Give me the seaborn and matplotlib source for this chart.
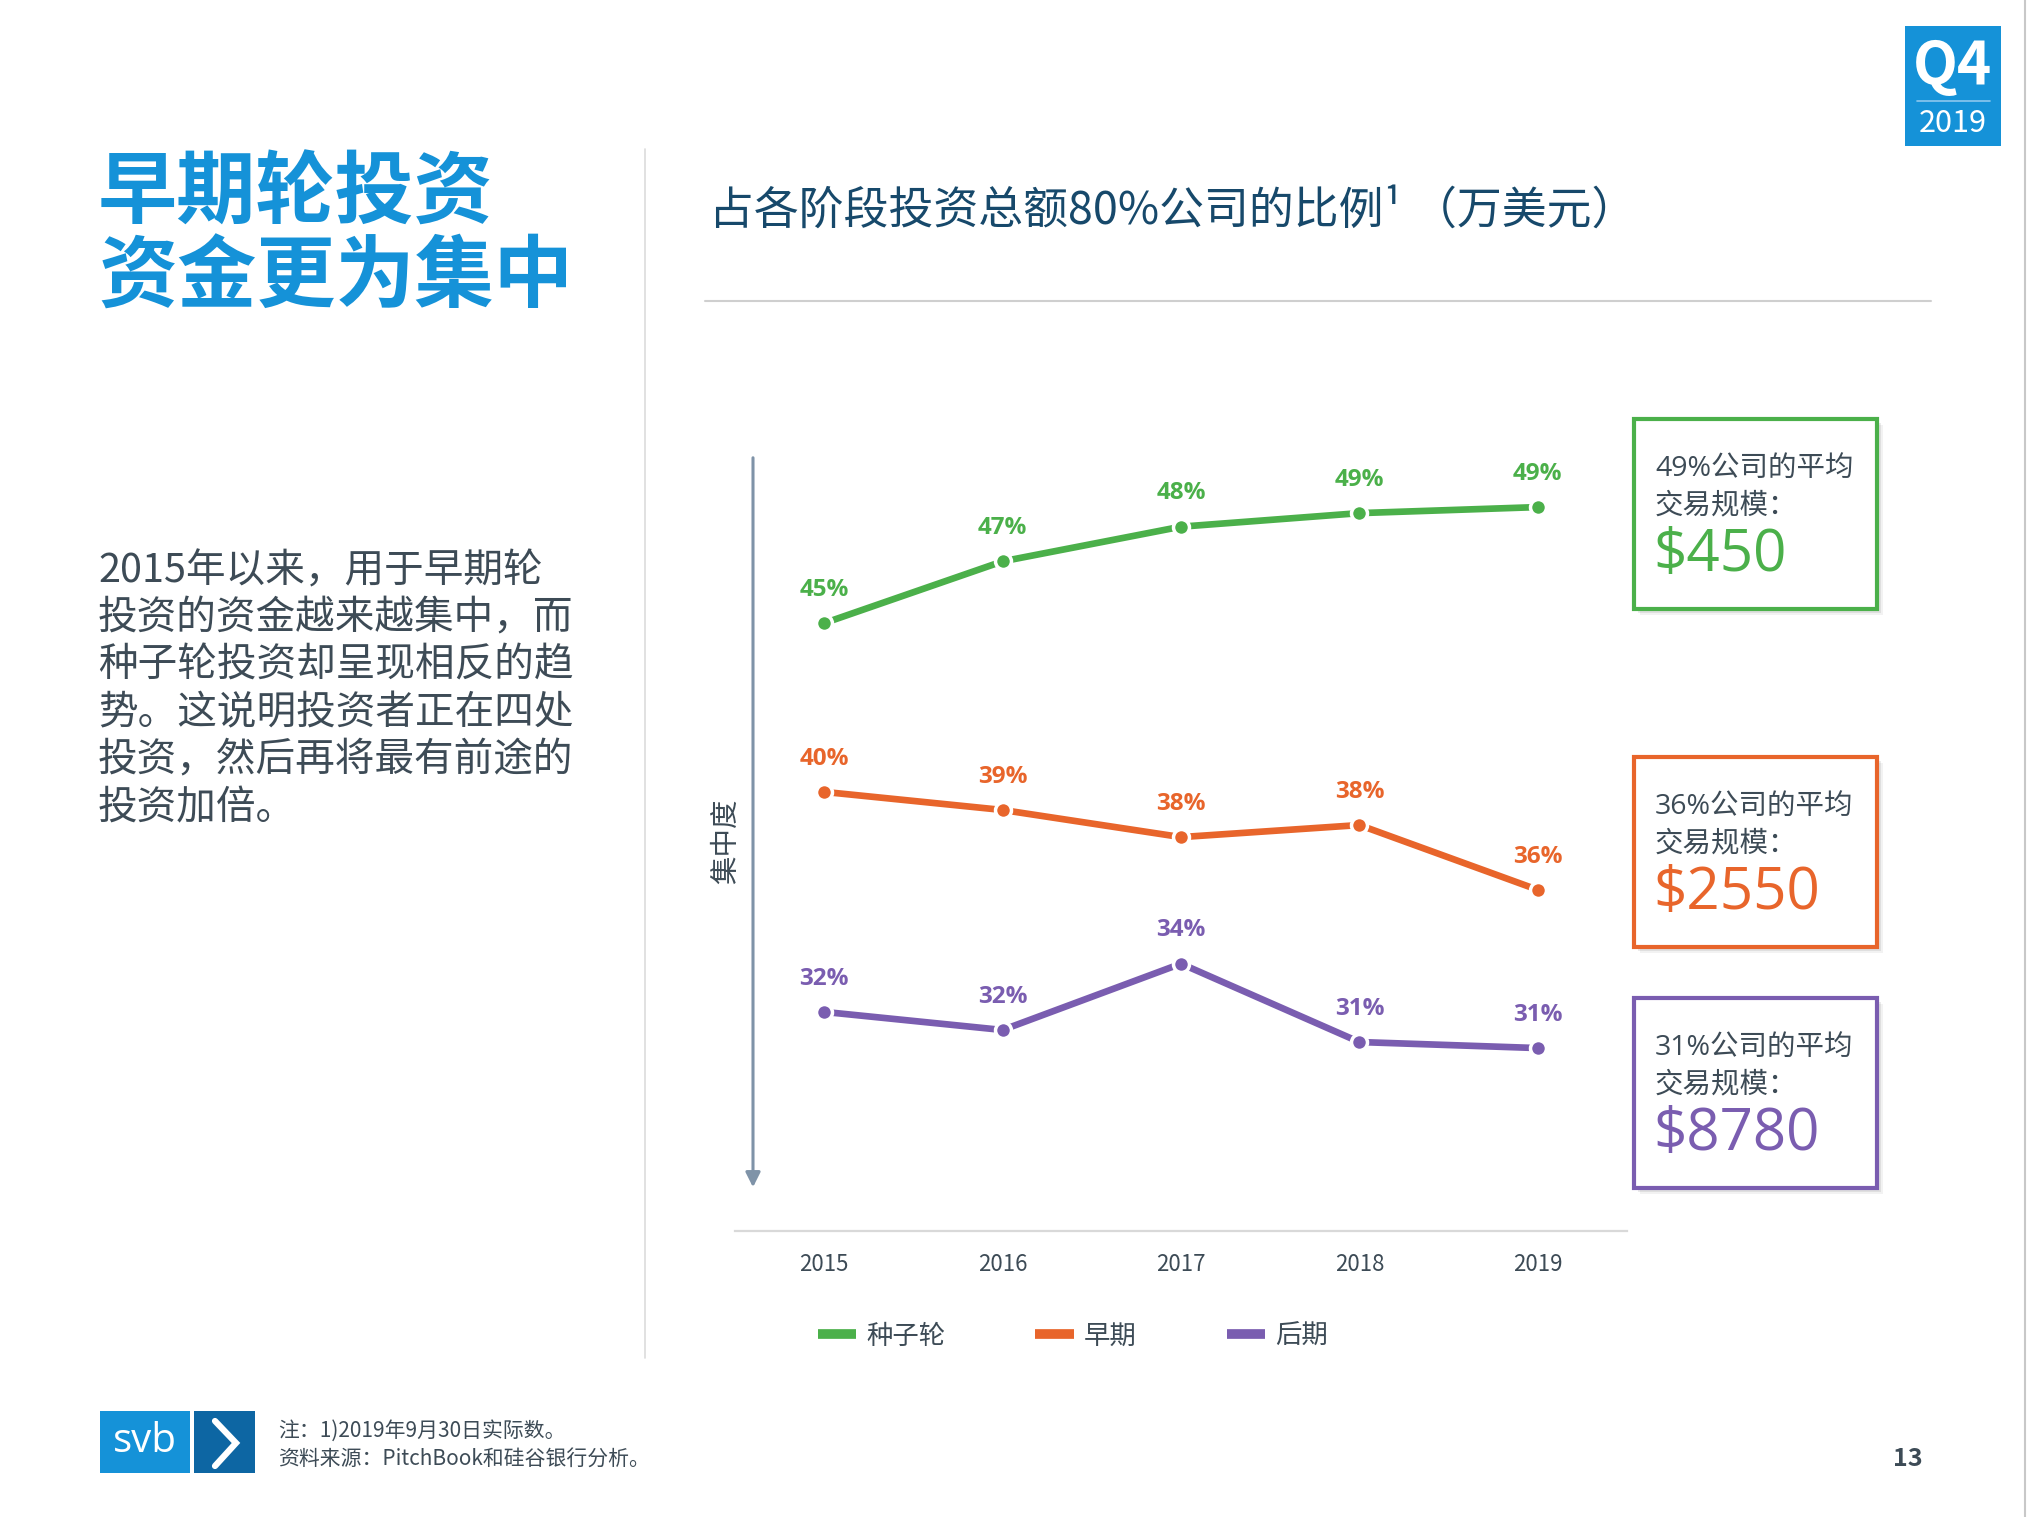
import matplotlib
matplotlib.use("Agg")
import matplotlib.pyplot as plt
import matplotlib.patches as patches
from matplotlib.lines import Line2D
import numpy as np
import pandas as pd
import seaborn as sns

# chart data
years = [2015, 2016, 2017, 2018, 2019]
stages = ["种子轮", "早期", "后期"]
# line heights (percent)
seed_vals = [45.1, 47.15, 48.3, 48.75, 48.95]
early_vals = [39.5, 38.9, 38.0, 38.4, 36.25]
late_vals = [32.2, 31.6, 33.8, 31.2, 31.0]
# printed data labels
seed_labels = ["45%", "47%", "48%", "49%", "49%"]
early_labels = ["40%", "39%", "38%", "38%", "36%"]
late_labels = ["32%", "32%", "34%", "31%", "31%"]
# call-out boxes
box_pcts = ["49%", "36%", "31%"]
box_amounts = ["$450", "$2550", "$8780"]

colors = {"种子轮": "#4bb04a", "早期": "#e8652b", "后期": "#7a5db0"}
TEXT = "#3d4b56"
BLUE = "#1592d8"

W, H = 2028, 1517


def X(x):
    return x / W


def Y(y):
    return 1 - y / H


sns.set_theme(style="white")
plt.rcParams["font.family"] = ["Noto Sans CJK SC", "DejaVu Sans"]

fig = plt.figure(figsize=(W / 100, H / 100), dpi=100)
fig.patch.set_facecolor("white")

# main chart axes
ax = fig.add_axes([X(735), Y(1231), (1627 - 735) / W, (1231 - 420) / H])
ax.set_facecolor("none")

df = pd.DataFrame({
    "year": years * 3,
    "value": seed_vals + early_vals + late_vals,
    "stage": [s for s in stages for _ in years],
})
sns.lineplot(data=df, x="year", y="value", hue="stage", palette=colors,
             linewidth=4.8, marker="o", markersize=11.5, markeredgecolor="white",
             markeredgewidth=2.5, legend=False, ax=ax)

label_sets = [(seed_vals, seed_labels, "种子轮"),
              (early_vals, early_labels, "早期"),
              (late_vals, late_labels, "后期")]
for vals, labs, st in label_sets:
    for yr, v, lab in zip(years, vals, labs):
        ax.annotate(lab, (yr, v), xytext=(0, 24), textcoords="offset points",
                    ha="center", va="center", fontsize=17.5, fontweight="bold",
                    color=colors[st], family=["Open Sans", "DejaVu Sans"])

ax.set_xlim(2014.5, 2019.5)
ax.set_ylim(24.93, 51.84)
ax.set_xticks(years)
ax.set_xticklabels([str(y) for y in years], fontsize=16, color=TEXT)
ax.set_yticks([])
ax.set_xlabel("")
ax.set_ylabel("")
for s in ["top", "left", "right"]:
    ax.spines[s].set_visible(False)
ax.spines["bottom"].set_color("#d9d9d9")
ax.spines["bottom"].set_linewidth(1.6)
ax.tick_params(axis="x", length=0, pad=16)

# legend
handles = [Line2D([], [], color=colors[s], lw=7, solid_capstyle="butt")
           for s in stages]
fig.legend(handles, stages, loc="center", bbox_to_anchor=(X(1073), Y(1336)),
           ncol=3, frameon=False, fontsize=19, handlelength=1.45,
           handletextpad=0.4, columnspacing=3.4, labelcolor=TEXT)

# concentration arrow and label
ax.annotate("", xy=(X(753), Y(1190)), xycoords="figure fraction",
            xytext=(X(753), Y(455)), textcoords="figure fraction",
            arrowprops=dict(arrowstyle="-|>", color="#7f93a8", lw=2.2,
                            mutation_scale=22), annotation_clip=False)
fig.text(X(726), Y(841), "集中度", rotation=90, ha="center", va="center",
         fontsize=20.5, color=TEXT)

# right call-out boxes
box_tops = [419, 757, 998]
box_h = 190
for top, pct, amt, st in zip(box_tops, box_pcts, box_amounts, stages):
    for off, a in [(6, 0.05), (4, 0.08), (2, 0.1)]:
        fig.add_artist(patches.Rectangle((X(1634 + off), Y(top + box_h + off)),
                                         243 / W, box_h / H, transform=fig.transFigure,
                                         facecolor="black", edgecolor="none", alpha=a))
    fig.add_artist(patches.Rectangle((X(1634), Y(top + box_h)), 243 / W, box_h / H,
                                     transform=fig.transFigure, facecolor="white",
                                     edgecolor=colors[st], lw=3))
    fig.text(X(1655), Y(top + 51), pct + "公司的平均", ha="left", va="center",
             fontsize=20.5, color=TEXT, family=["Open Sans", "Noto Sans CJK SC"])
    fig.text(X(1655), Y(top + 86), "交易规模：", ha="left", va="center",
             fontsize=20.5, color=TEXT)
    fig.text(X(1653), Y(top + 137), amt, ha="left", va="center",
             fontsize=42, color=colors[st], family=["Open Sans", "DejaVu Sans"])

# chart title and rule
fig.text(X(709), Y(211), "占各阶段投资总额80%公司的比例¹ （万美元）", ha="left",
         va="center", fontsize=32.3, color="#17496b")
fig.add_artist(Line2D([X(705), X(1931)], [Y(301), Y(301)], color="#cfcfcf", lw=1.5))

# vertical separator and page edge
fig.add_artist(Line2D([X(645), X(645)], [Y(149), Y(1358)], color="#dcdcdc", lw=1.2))
fig.add_artist(Line2D([X(2025), X(2025)], [0, 1], color="#c8c8c8", lw=1.5))

# headline on the left
fig.text(X(98), Y(194), "早期轮投资", ha="left", va="center", fontsize=57,
         fontweight="bold", color=BLUE)
fig.text(X(98), Y(278), "资金更为集中", ha="left", va="center", fontsize=57,
         fontweight="bold", color=BLUE)

body = ["2015年以来，用于早期轮",
        "投资的资金越来越集中，而",
        "种子轮投资却呈现相反的趋",
        "势。这说明投资者正在四处",
        "投资，然后再将最有前途的",
        "投资加倍。"]
for i, line in enumerate(body):
    fig.text(X(98), Y(571 + i * 47.4), line, ha="left", va="center",
             fontsize=28.5, color=TEXT)

# Q4 badge
fig.add_artist(patches.Rectangle((X(1905), Y(146)), 96 / W, 120 / H,
                                 transform=fig.transFigure, facecolor=BLUE,
                                 edgecolor="none"))
fig.text(X(1953), Y(67), "Q4", ha="center", va="center", fontsize=42,
         fontweight="bold", color="white")
fig.add_artist(Line2D([X(1917), X(1990)], [Y(101), Y(101)], color="#8cc8ee", lw=1.2))
fig.text(X(1953), Y(124), "2019", ha="center", va="center", fontsize=22,
         color="white")

# svb logo
fig.add_artist(patches.Rectangle((X(100), Y(1473)), 90 / W, 62 / H,
                                 transform=fig.transFigure, facecolor=BLUE,
                                 edgecolor="none"))
fig.add_artist(patches.Rectangle((X(194), Y(1473)), 61 / W, 62 / H,
                                 transform=fig.transFigure, facecolor="#0d66a3",
                                 edgecolor="none"))
fig.text(X(145), Y(1442), "svb", ha="center", va="center", fontsize=29,
         color="white", family=["Open Sans", "DejaVu Sans"])
fig.add_artist(Line2D([X(215), X(236), X(215)], [Y(1421), Y(1443), Y(1466)],
                      color="white", lw=4.5, solid_joinstyle="miter"))

# footnotes
fig.text(X(278), Y(1431), "注：1)2019年9月30日实际数。", ha="left", va="center",
         fontsize=15, color=TEXT)
fig.text(X(278), Y(1460), "资料来源：PitchBook和硅谷银行分析。", ha="left",
         va="center", fontsize=15, color=TEXT)
fig.text(X(1908), Y(1459), "13", ha="center", va="center", fontsize=18,
         fontweight="bold", color=TEXT)

fig.savefig("out.png", dpi=100, facecolor="white")
